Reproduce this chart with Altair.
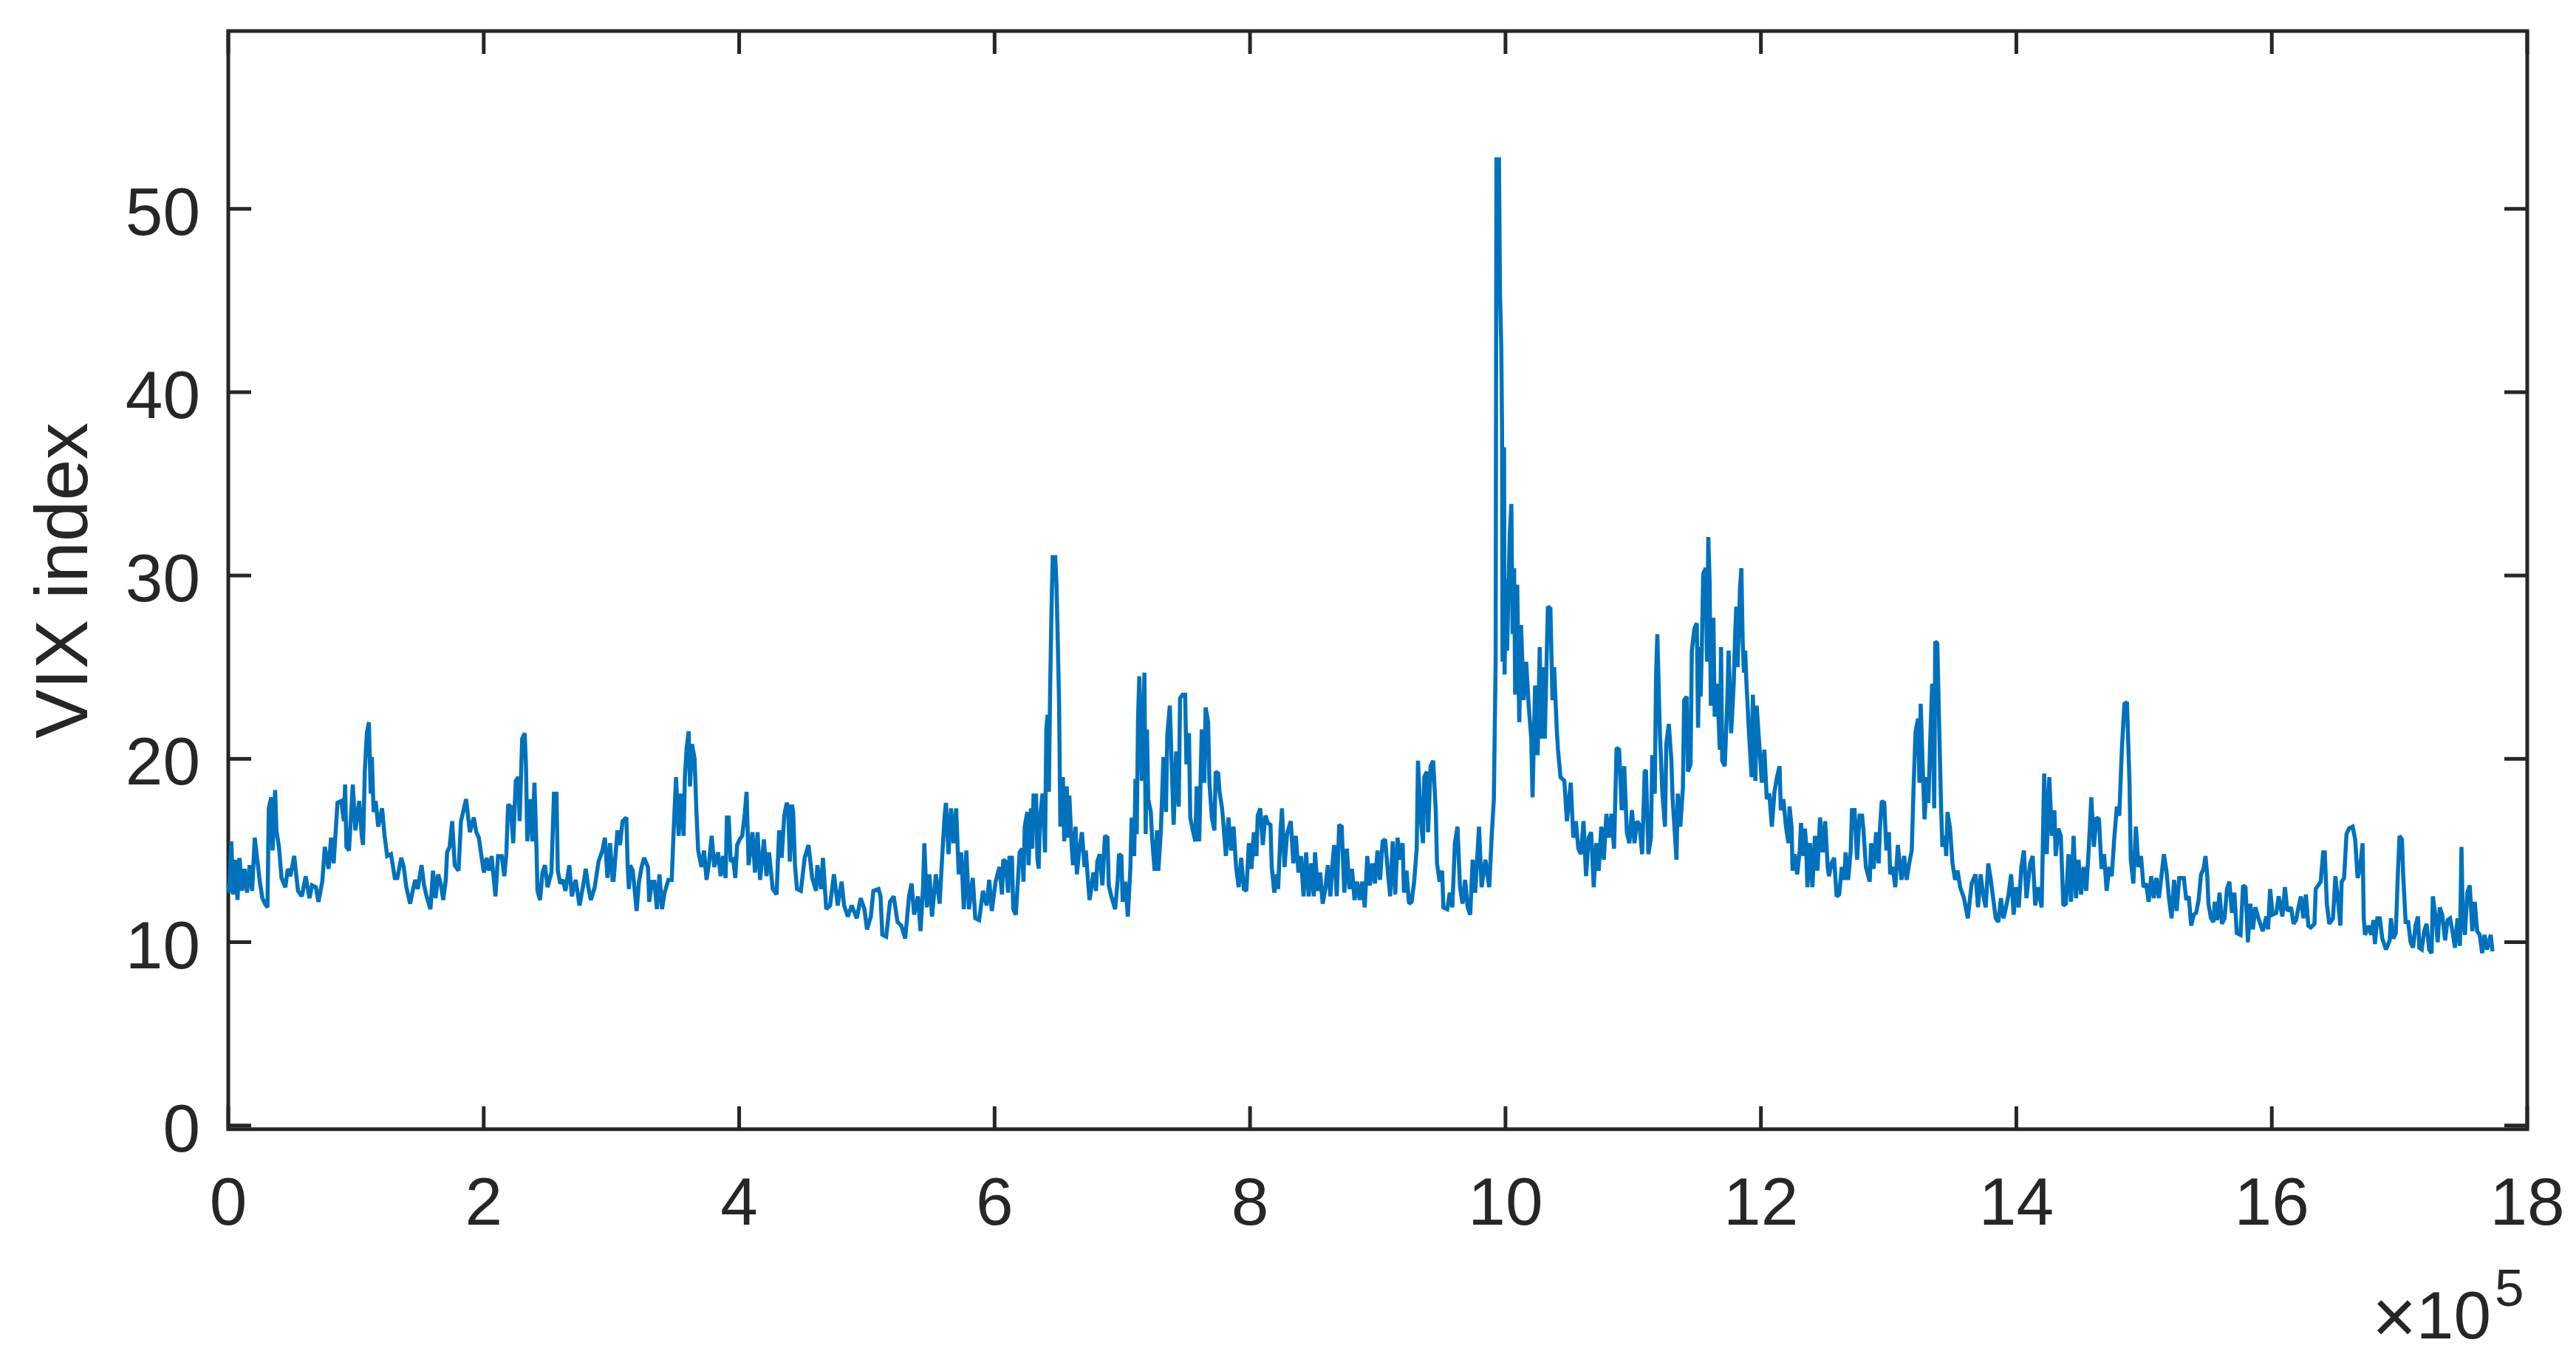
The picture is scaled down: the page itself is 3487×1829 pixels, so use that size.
import altair as alt
import pandas as pd

# VIX index series: (sample index in units of 1e5, VIX value)
seg_a = [(0.000,13.2),(0.008,12.7),(0.024,15.5),(0.038,12.6),(0.058,14.5),(0.072,12.3),(0.088,14.6),(0.108,12.8),(0.127,14.0),(0.147,12.7),(0.167,14.2),(0.187,12.8),(0.207,15.7),(0.227,14.5),(0.247,13.3),(0.267,12.4),(0.287,12.1),(0.307,11.9),(0.317,17.3),(0.337,17.9),(0.347,15.0),(0.367,18.3),(0.377,16.1),(0.397,15.2),(0.417,13.5),(0.447,13.0),(0.466,14.0),(0.486,13.6),(0.516,14.7),(0.546,12.8),(0.576,12.5),(0.606,13.6),(0.636,12.4),(0.656,13.1),(0.686,13.0),(0.706,12.2),(0.736,13.3),(0.756,15.2),(0.785,14.0),(0.805,15.7),(0.825,14.3),(0.855,17.6),(0.885,17.7),(0.905,16.6),(0.915,18.6),(0.925,15.2),(0.945,15.0),(0.975,18.6),(0.995,16.1),(1.025,17.7),(1.045,15.8),(1.055,15.3),(1.069,19.3),(1.085,21.4),(1.101,22.0),(1.115,18.1),(1.124,20.1),(1.138,17.1),(1.154,17.7),(1.174,16.3),(1.204,17.3),(1.224,15.8),(1.244,14.7),(1.274,14.8),(1.304,13.5),(1.324,13.5),(1.354,14.6),(1.374,14.1),(1.394,13.0),(1.424,12.1),(1.444,12.8),(1.464,13.4),(1.484,12.9),(1.513,14.2),(1.533,13.1),(1.553,12.5),(1.583,11.8),(1.603,13.9),(1.623,12.4),(1.643,13.7),(1.663,13.2),(1.683,12.3),(1.703,13.4),(1.713,14.9),(1.733,15.2),(1.753,16.6),(1.773,14.2),(1.803,13.9),(1.822,16.6),(1.842,17.2),(1.862,17.8),(1.892,16.0),(1.922,16.8),(1.942,16.0),(1.962,15.7),(1.982,14.7),(2.002,13.8),(2.022,14.6),(2.042,13.9),(2.062,14.7),(2.078,13.5),(2.092,12.5),(2.112,14.7),(2.141,14.7),(2.161,13.6),(2.177,14.8),(2.191,17.5),(2.211,17.4),(2.231,15.4),(2.251,18.8),(2.271,19.0),(2.281,16.6),(2.301,21.1),(2.321,21.4),(2.331,19.6),(2.341,15.5),(2.361,17.8),(2.381,15.5),(2.397,18.7),(2.411,15.7),(2.421,12.8),(2.441,12.3),(2.460,13.8),(2.480,14.2),(2.500,13.0),(2.530,13.8),(2.550,18.1),(2.570,18.1),(2.580,13.9),(2.600,13.2),(2.620,13.4),(2.640,12.8),(2.670,14.2),(2.690,12.5),(2.720,13.4),(2.750,12.0),(2.779,13.1),(2.799,14.0),(2.819,13.0),(2.839,12.3),(2.869,13.0),(2.899,14.4),(2.929,15.0),(2.949,15.7),(2.969,13.5),(2.989,15.4),(3.009,13.4)]

seg_b = [(3.017,13.4),(3.037,15.2),(3.047,16.1),(3.067,15.3),(3.087,16.6),(3.117,16.8),(3.127,14.2),(3.137,12.9),(3.147,14.2),(3.167,13.9),(3.187,12.5),(3.197,11.7),(3.216,13.3),(3.236,14.1),(3.256,14.6),(3.286,14.1),(3.296,12.2),(3.316,13.3),(3.336,13.3),(3.356,11.8),(3.376,13.7),(3.396,11.8),(3.416,12.7),(3.446,13.4),(3.472,13.4),(3.486,15.9),(3.506,19.0),(3.526,15.8),(3.545,18.1),(3.565,15.8),(3.575,19.0),(3.589,20.6),(3.605,21.5),(3.615,18.5),(3.631,20.8),(3.651,20.0),(3.665,17.2),(3.679,15.0),(3.705,14.1),(3.725,15.0),(3.745,13.4),(3.765,14.4),(3.785,15.8),(3.805,14.1),(3.835,14.9),(3.855,13.6),(3.875,14.7),(3.894,13.5),(3.904,16.8),(3.918,16.8),(3.934,14.4),(3.954,14.5),(3.970,13.5),(3.984,15.3),(4.004,15.6),(4.024,15.8),(4.044,17.0),(4.058,18.2),(4.074,14.2),(4.104,16.0),(4.124,13.8),(4.144,16.0),(4.164,13.4),(4.194,15.6),(4.214,13.6),(4.234,14.9),(4.263,12.9),(4.293,12.6),(4.313,16.1),(4.333,14.6),(4.353,16.9),(4.373,17.6),(4.383,17.4),(4.397,14.4),(4.413,17.5),(4.423,17.1),(4.437,14.2),(4.453,12.9),(4.483,12.8),(4.513,14.6),(4.543,15.3),(4.572,13.5),(4.602,12.8),(4.612,14.2),(4.642,12.9),(4.656,14.6),(4.682,11.8),(4.712,12.0),(4.742,13.7),(4.772,12.0),(4.802,13.3),(4.822,12.0),(4.851,11.4),(4.881,12.0),(4.921,11.3),(4.951,12.4),(4.981,11.8),(5.001,10.7),(5.031,11.4),(5.051,12.8),(5.091,12.9),(5.107,12.5),(5.121,10.4),(5.151,10.3),(5.181,12.2),(5.210,12.5),(5.240,11.1),(5.270,10.9),(5.300,10.2),(5.330,12.5),(5.350,13.2),(5.370,11.5),(5.400,12.5),(5.420,10.6),(5.440,13.0),(5.450,15.4),(5.470,11.9),(5.490,13.7),(5.510,11.4),(5.540,13.7),(5.570,12.1),(5.589,14.6),(5.609,16.9),(5.619,17.6),(5.639,14.8),(5.659,17.3),(5.679,15.4),(5.699,17.3),(5.719,13.7),(5.739,14.9),(5.759,11.8),(5.779,15.0),(5.799,11.8),(5.829,13.5),(5.849,11.3),(5.879,11.2),(5.909,12.8),(5.938,12.0),(5.958,13.4),(5.978,11.7),(6.008,13.3),(6.038,14.1),(6.058,12.6),(6.068,14.5)]

seg_c = [(6.086,14.4),(6.106,12.7),(6.116,14.6),(6.136,14.6),(6.146,11.8),(6.166,11.5),(6.176,12.6),(6.196,14.9),(6.216,15.1),(6.226,13.3),(6.236,16.3),(6.256,17.1),(6.266,14.2),(6.285,17.3),(6.295,15.1),(6.305,18.0),(6.325,18.0),(6.335,14.6),(6.345,14.0),(6.355,16.7),(6.375,18.1),(6.395,14.9),(6.405,21.6),(6.415,22.4),(6.425,18.2),(6.435,23.9),(6.445,27.9),(6.455,31.0),(6.475,31.0),(6.485,29.4),(6.495,26.3),(6.505,23.0),(6.515,16.3),(6.535,19.0),(6.545,15.5),(6.565,18.5),(6.575,15.7),(6.585,18.0),(6.604,15.2),(6.614,14.2),(6.634,16.3),(6.644,13.7),(6.664,15.1),(6.684,16.0),(6.704,14.1),(6.714,15.0),(6.734,13.1),(6.744,12.3),(6.774,13.8),(6.794,12.8),(6.804,14.4),(6.824,14.8),(6.844,13.1),(6.864,15.8),(6.884,15.7),(6.894,13.1),(6.914,12.5),(6.944,11.8),(6.964,13.4),(6.974,14.8),(6.993,14.7),(7.003,12.2),(7.023,13.3),(7.043,11.4),(7.063,14.0),(7.073,16.8),(7.093,14.7),(7.103,18.9),(7.113,15.9),(7.123,22.2),(7.133,24.5),(7.153,18.8),(7.173,24.7),(7.183,15.9),(7.193,21.6),(7.203,17.8),(7.223,17.1),(7.233,15.7),(7.253,13.9),(7.272,16.1),(7.282,13.9),(7.302,16.1),(7.322,20.1),(7.342,17.1),(7.352,21.3),(7.372,22.9),(7.392,18.5),(7.402,16.4),(7.422,20.4),(7.442,17.4),(7.452,23.3),(7.472,23.5),(7.492,23.5),(7.502,19.7),(7.522,21.4),(7.532,16.8),(7.552,16.1),(7.572,15.5),(7.582,18.5),(7.602,15.5),(7.622,21.6),(7.642,18.7),(7.652,22.8),(7.672,22.0),(7.682,18.7),(7.701,16.8),(7.721,16.1),(7.731,19.3),(7.751,19.2),(7.761,18.2),(7.781,17.3),(7.791,16.5),(7.811,14.7),(7.831,16.8),(7.851,15.0),(7.871,16.3),(7.891,14.1),(7.911,13.0),(7.931,14.6),(7.951,12.9),(7.971,12.8),(7.991,15.4),(8.011,14.0),(8.030,16.0),(8.050,14.7),(8.060,16.9),(8.080,17.3),(8.100,15.3),(8.120,16.9),(8.140,16.5),(8.160,16.4),(8.170,14.1),(8.190,12.7),(8.210,13.7),(8.220,12.9),(8.240,16.2),(8.250,17.3),(8.270,14.1),(8.290,15.9),(8.319,16.6),(8.339,14.3),(8.359,15.8),(8.379,13.8),(8.399,14.7),(8.419,12.5),(8.439,14.9),(8.459,12.5),(8.479,14.3),(8.499,12.5),(8.509,14.9),(8.529,12.8),(8.549,13.8),(8.569,12.1),(8.589,12.9),(8.609,14.2),(8.629,12.5),(8.649,14.6),(8.659,15.3),(8.679,12.5),(8.698,16.4),(8.718,16.3),(8.738,12.7),(8.758,15.1),(8.778,12.9),(8.798,14.0),(8.818,12.3),(8.838,13.3),(8.858,12.3),(8.878,13.3),(8.898,11.9),(8.918,14.7),(8.938,13.1),(8.958,14.3),(8.978,13.2),(8.998,15.0),(9.018,13.4),(9.038,15.5),(9.058,15.6),(9.077,14.0),(9.097,12.5),(9.117,15.5),(9.137,12.6)]

seg_d = [(9.155,15.7),(9.175,14.5),(9.195,15.4),(9.205,12.7),(9.225,13.9),(9.245,12.1),(9.265,12.2),(9.285,13.3),(9.305,15.1),(9.315,19.9),(9.335,16.9),(9.354,15.4),(9.364,19.0),(9.384,19.3),(9.394,16.0),(9.414,19.6),(9.434,19.9),(9.454,17.2),(9.464,14.3),(9.484,13.3),(9.504,13.9),(9.514,11.9),(9.544,11.8),(9.564,12.7),(9.584,11.9),(9.604,15.4),(9.624,16.3),(9.644,13.0),(9.664,12.1),(9.684,13.4),(9.704,11.9),(9.724,11.5),(9.743,14.5),(9.763,12.7),(9.793,16.3),(9.813,13.0),(9.843,14.5),(9.873,13.0),(9.893,15.9),(9.909,17.8),(9.923,25.3),(9.929,52.7),(9.949,52.7),(9.957,45.5),(9.967,42.5),(9.973,38.0),(9.977,25.3),(9.989,37.0),(9.993,24.6),(10.003,29.8),(10.013,25.9),(10.033,32.2),(10.046,33.9),(10.056,26.8),(10.068,30.4),(10.076,23.5),(10.092,29.5),(10.108,22.0),(10.122,27.3),(10.132,25.3),(10.142,23.2),(10.162,25.3),(10.182,22.9),(10.202,21.1),(10.212,17.9),(10.232,24.0),(10.252,20.2),(10.268,26.1),(10.282,21.1),(10.296,25.0),(10.308,21.1),(10.332,28.3),(10.352,28.2),(10.368,23.2),(10.381,25.0),(10.401,21.7),(10.411,20.5),(10.431,19.0),(10.461,18.8),(10.481,16.6),(10.511,18.7),(10.531,15.7),(10.551,16.6),(10.571,15.1),(10.591,14.8),(10.611,16.6),(10.631,13.6),(10.651,15.7),(10.671,16.0),(10.691,13.0),(10.711,15.4),(10.730,13.9),(10.750,16.3),(10.770,14.5),(10.790,17.0),(10.810,15.7),(10.830,17.0),(10.850,15.1),(10.870,20.6),(10.890,20.5),(10.910,17.2),(10.930,19.6),(10.950,16.0),(10.970,15.4),(10.990,17.2),(11.010,15.4),(11.030,16.6),(11.050,16.4),(11.070,14.8),(11.090,19.3),(11.100,19.4),(11.119,14.8),(11.139,15.7),(11.149,20.2),(11.169,18.1),(11.179,24.6),(11.189,26.8),(11.209,21.4),(11.229,18.1),(11.249,16.3),(11.259,20.8),(11.279,21.9),(11.299,19.9),(11.309,17.8),(11.339,14.5),(11.349,18.1),(11.369,16.3),(11.389,18.4),(11.399,23.2),(11.419,23.4),(11.429,19.3),(11.449,19.7),(11.459,25.9),(11.479,27.1),(11.498,27.4),(11.508,21.7),(11.518,26.1),(11.528,23.4),(11.538,26.2),(11.548,30.1),(11.568,30.4),(11.578,25.3),(11.588,32.1),(11.598,29.8),(11.608,22.9),(11.628,27.7),(11.638,22.3),(11.658,24.1),(11.678,20.5),(11.688,26.1),(11.697,19.9),(11.717,19.6),(11.737,23.2),(11.747,25.9),(11.767,21.4),(11.787,24.1),(11.797,26.5),(11.807,28.3),(11.817,25.0),(11.837,29.4),(11.847,30.4),(11.857,26.5),(11.867,24.7),(11.877,25.9),(11.887,24.1),(11.907,21.4),(11.927,19.0),(11.937,23.5),(11.957,18.8),(11.967,22.9),(11.987,20.8),(12.007,18.7),(12.027,20.5),(12.046,17.8),(12.066,18.1),(12.086,16.3),(12.106,18.2),(12.126,19.0),(12.146,19.6),(12.156,17.2),(12.176,17.8),(12.196,16.3),(12.216,15.4)]

seg_e = [(12.224,17.4),(12.240,16.3),(12.248,13.9),(12.264,14.8),(12.284,13.7),(12.304,15.0),(12.314,16.5),(12.334,14.7),(12.344,16.2),(12.354,15.4),(12.364,13.0),(12.384,15.4),(12.403,13.0),(12.423,15.8),(12.443,13.9),(12.463,16.8),(12.483,14.9),(12.503,16.6),(12.523,14.1),(12.533,13.6),(12.553,14.3),(12.573,14.6),(12.593,12.5),(12.613,12.6),(12.633,14.1),(12.653,13.4),(12.663,14.9),(12.683,13.4),(12.703,15.0),(12.713,17.2),(12.733,17.2),(12.753,14.5),(12.772,16.9),(12.792,16.9),(12.802,16.2),(12.822,14.1),(12.852,13.3),(12.862,15.4),(12.882,14.0),(12.902,16.0),(12.922,14.3),(12.932,16.2),(12.946,17.7),(12.966,17.6),(12.982,15.0),(13.002,16.0),(13.012,13.7),(13.032,14.1),(13.052,13.0),(13.072,15.3),(13.101,13.4),(13.121,14.7),(13.141,13.4),(13.161,14.3),(13.181,15.0),(13.195,18.4),(13.211,21.5),(13.231,22.2),(13.241,18.7),(13.251,23.0),(13.265,20.0),(13.281,16.7),(13.301,19.0),(13.311,17.6),(13.327,21.3),(13.341,24.1),(13.357,17.3),(13.365,26.4),(13.381,26.3),(13.391,23.2),(13.401,20.2),(13.411,17.3),(13.421,15.2),(13.441,15.8),(13.451,14.7),(13.461,17.1),(13.481,16.2),(13.500,14.3),(13.520,13.4),(13.540,13.9),(13.560,13.0),(13.590,12.4),(13.620,11.3),(13.650,13.2),(13.680,13.7),(13.700,11.9),(13.720,13.7),(13.740,12.6),(13.760,11.9),(13.780,14.3),(13.800,13.4),(13.820,12.3),(13.839,11.3),(13.859,11.1),(13.879,12.4),(13.899,11.3),(13.919,11.9),(13.939,12.6),(13.959,13.7),(13.979,11.5),(13.999,13.0),(14.019,11.9),(14.039,14.1),(14.059,15.0),(14.079,12.4),(14.108,14.3),(14.128,14.7),(14.148,12.0),(14.168,13.0),(14.198,11.9),(14.218,19.2),(14.238,14.8),(14.258,19.0),(14.278,15.8),(14.298,17.2),(14.308,14.7),(14.328,16.2),(14.348,15.8),(14.368,12.0),(14.388,12.1),(14.408,14.8),(14.428,12.2),(14.448,15.8),(14.467,12.4),(14.487,14.5),(14.507,12.6),(14.527,14.1),(14.547,12.8),(14.567,15.1),(14.587,17.9),(14.607,15.2),(14.627,16.8),(14.647,16.7),(14.667,14.0),(14.687,14.8),(14.707,12.8),(14.727,14.1),(14.747,13.6),(14.767,15.7),(14.787,17.4),(14.806,16.9),(14.826,20.5),(14.846,23.0),(14.866,23.1),(14.886,18.7),(14.896,14.5),(14.916,13.2),(14.936,16.3),(14.956,14.1),(14.976,14.7),(14.996,13.0),(15.016,13.2),(15.036,12.2),(15.056,13.6),(15.076,12.4),(15.096,13.5),(15.116,12.4),(15.136,13.6),(15.155,14.8),(15.175,13.9),(15.195,12.4),(15.215,11.3),(15.235,13.4),(15.255,11.7),(15.275,13.5)]

seg_f = [(15.292,13.5),(15.311,13.5),(15.331,12.3),(15.350,12.5),(15.369,10.9),(15.389,11.5),(15.408,11.6),(15.427,12.3),(15.446,13.7),(15.466,14.0),(15.481,14.7),(15.495,13.6),(15.504,12.1),(15.524,11.3),(15.543,11.1),(15.553,12.2),(15.572,11.2),(15.591,12.7),(15.610,11.0),(15.630,11.3),(15.649,12.9),(15.668,13.3),(15.688,11.6),(15.707,12.7),(15.726,10.5),(15.755,10.4),(15.775,13.1),(15.794,13.0),(15.813,10.0),(15.832,12.1),(15.852,10.7),(15.871,11.9),(15.900,11.2),(15.929,10.6),(15.958,11.4),(15.971,10.7),(15.987,12.9),(16.006,11.5),(16.035,11.6),(16.054,12.5),(16.083,11.4),(16.103,13.0),(16.122,11.7),(16.151,11.9),(16.170,11.0),(16.190,11.2),(16.209,11.9),(16.228,12.5),(16.247,11.3),(16.267,12.6),(16.286,10.9),(16.305,10.8),(16.334,11.0),(16.344,12.9),(16.363,13.1),(16.383,13.3),(16.402,14.9),(16.415,14.9),(16.431,12.1),(16.450,11.0),(16.479,11.3),(16.498,13.6),(16.518,12.3),(16.537,10.9),(16.547,13.3),(16.566,13.5),(16.585,15.9),(16.604,16.2),(16.633,16.3),(16.653,15.6),(16.672,13.5),(16.691,14.0),(16.711,15.4),(16.720,11.3),(16.730,10.4),(16.759,10.9),(16.778,10.4),(16.797,11.2),(16.807,9.9),(16.826,11.3),(16.846,11.3),(16.865,10.2),(16.894,9.6),(16.923,10.1),(16.933,11.3),(16.952,10.2),(16.971,10.5),(16.987,13.7),(17.000,15.8),(17.019,15.6),(17.029,13.6),(17.048,11.1),(17.068,11.1),(17.087,10.0),(17.106,9.7),(17.125,10.9),(17.145,11.4),(17.155,9.7),(17.174,9.6),(17.193,10.6),(17.212,11.0),(17.232,9.6),(17.251,9.4),(17.261,12.5),(17.280,11.5),(17.299,10.0),(17.315,11.9),(17.334,11.5),(17.357,10.1),(17.376,11.2),(17.396,11.3),(17.415,10.6),(17.434,9.7),(17.454,11.3),(17.473,9.8),(17.485,15.2),(17.496,11.3),(17.512,10.4),(17.531,12.7),(17.550,13.1),(17.570,10.6),(17.589,12.2),(17.608,10.6),(17.628,10.4),(17.647,9.4),(17.666,10.4),(17.685,9.6),(17.714,10.4),(17.728,9.5)]

x_ticks = [0, 2, 4, 6, 8, 10, 12, 14, 16, 18]
y_ticks = [0, 10, 20, 30, 40, 50]
y_title = "VIX index"
exp_times = "×"
exp_base = "10"
exp_power = "5"

rows = [{"t": t, "v": v} for seg in (seg_a, seg_b, seg_c, seg_d, seg_e, seg_f) for t, v in seg]
df = pd.DataFrame(rows)

W = 3112
H = 1486.7
TL = 31
INK = "#262626"
FONT = "Liberation Sans"

xs = alt.Scale(domain=[0, 18], nice=False, zero=False)
ys = alt.Scale(domain=[-0.2, 59.7], nice=False, zero=False)

line = alt.Chart(df).mark_line(color="#0072BD", strokeWidth=5.5, strokeJoin="miter",
                               strokeMiterLimit=2).encode(
    x=alt.X("t:Q", scale=xs, axis=None),
    y=alt.Y("v:Q", scale=ys, axis=None),
)

ytdf = pd.DataFrame({"v": y_ticks, "lab": [str(v) for v in y_ticks]})
xtdf = pd.DataFrame({"t": x_ticks, "lab": [str(v) for v in x_ticks]})
rule = dict(color=INK, strokeWidth=5)

tick_left = alt.Chart(ytdf).mark_rule(**rule).encode(
    y=alt.Y("v:Q", scale=ys, axis=None), x=alt.value(0), x2=alt.value(TL))
tick_right = alt.Chart(ytdf).mark_rule(**rule).encode(
    y=alt.Y("v:Q", scale=ys, axis=None), x=alt.value(W - TL), x2=alt.value(W))
tick_bottom = alt.Chart(xtdf).mark_rule(**rule).encode(
    x=alt.X("t:Q", scale=xs, axis=None), y=alt.value(H - TL), y2=alt.value(H))
tick_top = alt.Chart(xtdf).mark_rule(**rule).encode(
    x=alt.X("t:Q", scale=xs, axis=None), y=alt.value(0), y2=alt.value(TL))

ylabels = alt.Chart(ytdf).mark_text(
    font=FONT, fontSize=91, color=INK, align="right", baseline="alphabetic", dy=35).encode(
    y=alt.Y("v:Q", scale=ys, axis=None), x=alt.value(-38), text="lab:N")
xlabels = alt.Chart(xtdf).mark_text(
    font=FONT, fontSize=91, color=INK, align="center", baseline="alphabetic").encode(
    x=alt.X("t:Q", scale=xs, axis=None), y=alt.value(1616), text="lab:N")

ytitle = alt.Chart(pd.DataFrame({"s": [y_title]})).mark_text(
    font=FONT, fontSize=100, color=INK, align="center", baseline="alphabetic", angle=270).encode(
    text="s:N", x=alt.value(-191), y=alt.value(744))

exp_x = alt.Chart(pd.DataFrame({"s": [exp_times]})).mark_text(
    font=FONT, fontSize=104, color=INK, align="center", baseline="middle").encode(
    text="s:N", x=alt.value(2932), y=alt.value(1745))
exp_a = alt.Chart(pd.DataFrame({"s": [exp_base]})).mark_text(
    font=FONT, fontSize=91, color=INK, align="right", baseline="alphabetic").encode(
    text="s:N", x=alt.value(3063), y=alt.value(1770))
exp_b = alt.Chart(pd.DataFrame({"s": [exp_power]})).mark_text(
    font=FONT, fontSize=71, color=INK, align="left", baseline="alphabetic").encode(
    text="s:N", x=alt.value(3068), y=alt.value(1726))

chart = alt.layer(line, tick_left, tick_right, tick_bottom, tick_top,
                  ylabels, xlabels, ytitle, exp_x, exp_a, exp_b).properties(
    width=W, height=H,
    padding={"left": 301, "top": 34, "right": 50, "bottom": 288},
    autosize=alt.AutoSizeParams(type="none"),
    background="white",
).configure_view(stroke=INK, strokeWidth=5)

chart.save("out.html", embed_options={"renderer": "svg", "actions": False})
